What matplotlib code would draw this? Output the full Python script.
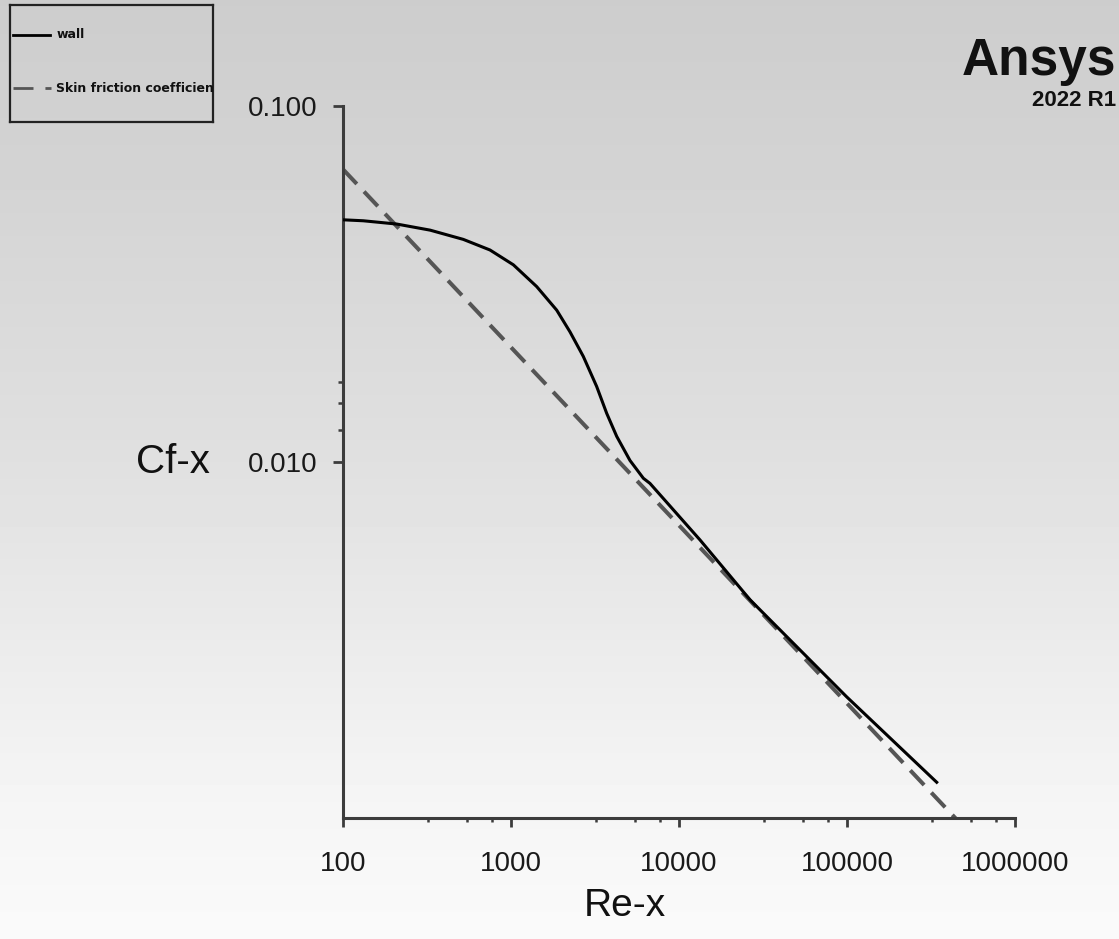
import matplotlib
matplotlib.use("Agg")

import numpy as np
import matplotlib.pyplot as plt
import matplotlib.ticker as mticker

plt.rcParams["font.family"] = ["Liberation Sans", "DejaVu Sans"]

# ── Data ──────────────────────────────────────────────────────────────────
wall_re = [100, 132, 209, 330, 520, 750, 1033, 1422, 1871, 2245, 2693, 3235,
           3712, 4259, 5107, 6137, 6714, 13340, 26500, 99500, 342000]
wall_cf = [0.0479, 0.0476, 0.0466, 0.0448, 0.0422, 0.0394, 0.0358, 0.0311,
           0.0267, 0.0232, 0.0198, 0.0163, 0.0137, 0.0118, 0.0101, 0.0090,
           0.00871, 0.00604, 0.00410, 0.00219, 0.00126]

blasius_re = [100, 1000000]
blasius_cf = [0.0664, 0.000664]

x_major = [100, 1000, 10000, 100000, 1000000]
x_minor_factors = [3.2, 5.5, 7.7]
y_major = [0.01, 0.1]
y_minor = [0.0123, 0.0146, 0.0168]

AXIS = "#3c3c3c"
DASH = "#555555"

W, H = 1119, 939
fig = plt.figure(figsize=(W / 100, H / 100), dpi=100)

# background gradient
bg = fig.add_axes([0, 0, 1, 1], zorder=-10)
rows = np.arange(H)
shade = np.interp(rows, [0, 140, 460, 800, H], [205, 210, 224, 245, 250]) / 255
bg.imshow(np.repeat(shade[:, None], 2, axis=1), cmap="gray", vmin=0, vmax=1,
          aspect="auto", extent=[0, 1, 0, 1])
bg.axis("off")

# ── Main axes ─────────────────────────────────────────────────────────────
ax = fig.add_axes([343 / W, 1 - 818 / H, 672 / W, 712 / H])
ax.patch.set_alpha(0)
ax.set_xscale("log")
ax.set_yscale("log")

ax.plot(wall_re, wall_cf, color="black", lw=2.2, solid_joinstyle="round",
        zorder=3)
ax.plot(blasius_re, blasius_cf, color=DASH, lw=2.9, dashes=(5, 2.6), zorder=2)

ax.set_xlim(100, 1e6)
ax.set_ylim(1e-3, 0.1)

for s in ["top", "right"]:
    ax.spines[s].set_visible(False)
for s in ["left", "bottom"]:
    ax.spines[s].set_color(AXIS)
    ax.spines[s].set_linewidth(2.2)
    ax.spines[s].set_capstyle("projecting")

ax.xaxis.set_major_locator(mticker.FixedLocator(x_major))
ax.xaxis.set_minor_locator(mticker.FixedLocator(
    [d * f for d in x_major[:-1] for f in x_minor_factors]))
ax.xaxis.set_major_formatter(mticker.FuncFormatter(lambda v, _: f"{v:.0f}"))
ax.xaxis.set_minor_formatter(mticker.NullFormatter())

ax.yaxis.set_major_locator(mticker.FixedLocator(y_major))
ax.yaxis.set_minor_locator(mticker.FixedLocator(y_minor))
ax.yaxis.set_major_formatter(mticker.FuncFormatter(lambda v, _: f"{v:.3f}"))
ax.yaxis.set_minor_formatter(mticker.NullFormatter())

ax.tick_params(axis="x", which="major", length=6.5, width=2, color=AXIS,
               labelsize=20, pad=17, labelcolor="#1a1a1a")
ax.tick_params(axis="x", which="minor", length=3, width=1.8, color=AXIS)
ax.tick_params(axis="y", which="major", length=7.5, width=2, color=AXIS,
               labelsize=20, pad=11, labelcolor="#1a1a1a")
ax.tick_params(axis="y", which="minor", length=3.5, width=1.8, color=AXIS)

ax.set_xlabel("Re-x", fontsize=28, color="#111111", va="center")
ax.xaxis.set_label_coords(0.42, -0.124)
ax.set_ylabel("Cf-x", fontsize=29, color="#111111", rotation=0,
              ha="center", va="center")
ax.yaxis.set_label_coords(-0.253, 0.5)

# ── Legend box ────────────────────────────────────────────────────────────
leg = fig.add_axes([10 / W, 1 - 122 / H, 203 / W, 117 / H])
leg.patch.set_alpha(0)
leg.set_xlim(0, 1)
leg.set_ylim(0, 1)
leg.set_xticks([])
leg.set_yticks([])
for s in leg.spines.values():
    s.set_color("#222222")
    s.set_linewidth(1.6)
leg.plot([0.015, 0.197], [0.744, 0.744], color="black", lw=2)
leg.text(0.23, 0.744, "wall", fontsize=9, fontweight="bold",
         family="DejaVu Sans", va="center", color="#111111")
leg.plot([0.015, 0.2], [0.29, 0.29], color=DASH, lw=2, dashes=(7.2, 4.3))
leg.text(0.225, 0.29, "Skin friction coefficient", fontsize=9,
         fontweight="bold", family="DejaVu Sans", va="center",
         color="#111111", clip_on=True)

# ── Logo ──────────────────────────────────────────────────────────────────
fig.text(1116 / W, 1 - 75 / H, "Ansys", fontsize=37, fontweight="bold",
         family=["Liberation Sans", "DejaVu Sans"], ha="right", va="baseline",
         color="#111111")
fig.text(1116 / W, 1 - 106 / H, "2022 R1", fontsize=16, fontweight="bold",
         family=["Liberation Sans", "DejaVu Sans"], ha="right", va="baseline",
         color="#111111")

fig.savefig("out.png", dpi=100)
